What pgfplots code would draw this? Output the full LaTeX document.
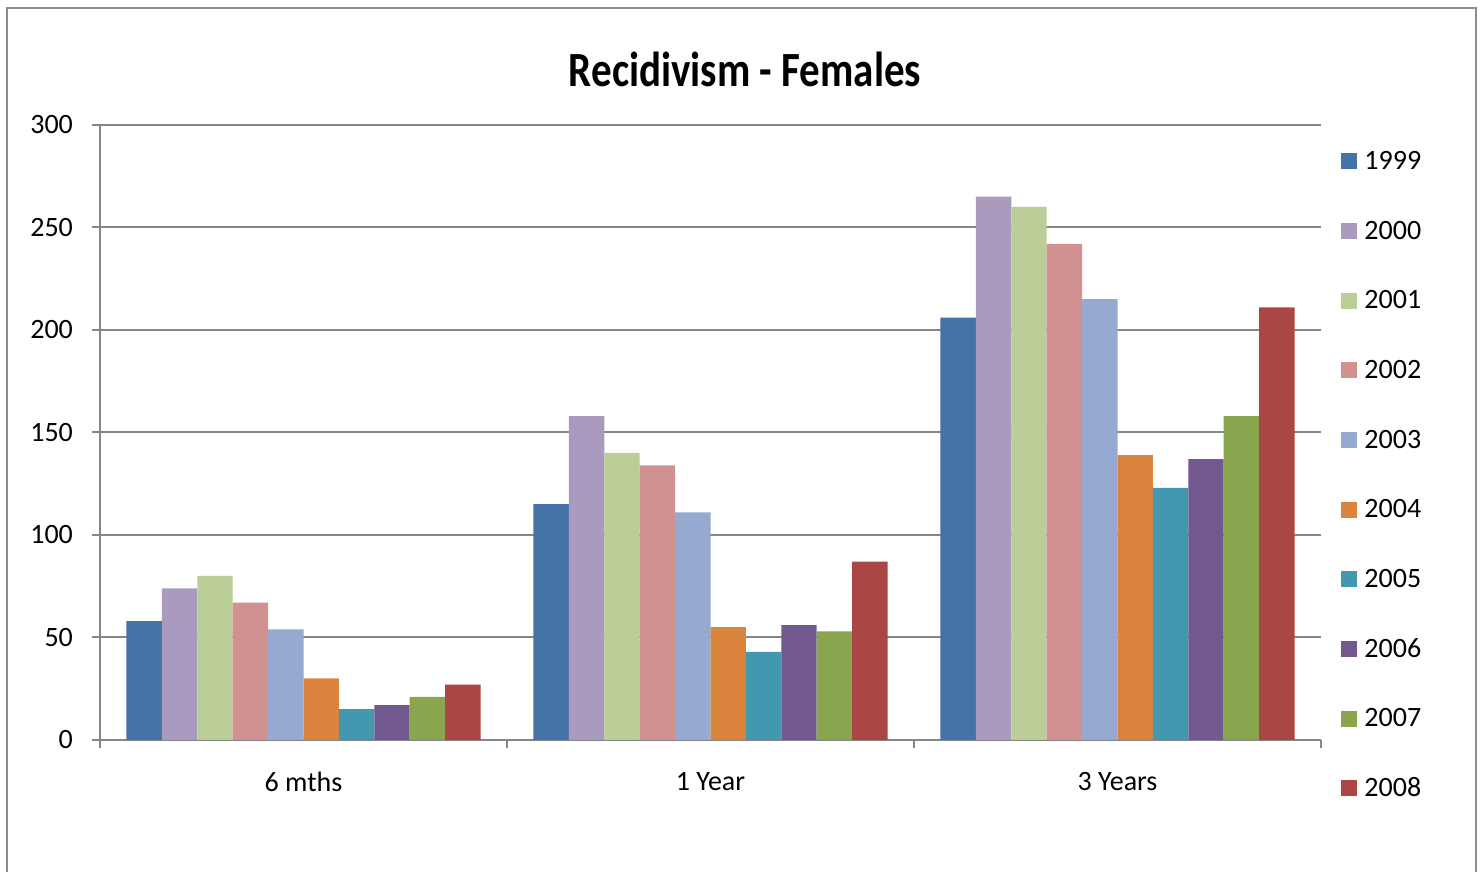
\documentclass[border=0pt]{standalone}
\usepackage{pgfplots}
\pgfplotsset{compat=1.18}
\usepackage{fontspec}
\setmainfont{Carlito}

\definecolor{gridc}{RGB}{134,134,134}
\definecolor{framec}{RGB}{140,140,140}
\definecolor{c1999}{RGB}{69,114,167}
\definecolor{c2000}{RGB}{170,155,190}
\definecolor{c2001}{RGB}{187,206,151}
\definecolor{c2002}{RGB}{210,145,145}
\definecolor{c2003}{RGB}{149,169,209}
\definecolor{c2004}{RGB}{219,132,61}
\definecolor{c2005}{RGB}{65,152,175}
\definecolor{c2006}{RGB}{113,88,143}
\definecolor{c2007}{RGB}{137,165,78}
\definecolor{c2008}{RGB}{170,70,67}

\begin{document}
\begin{tikzpicture}
% page = 1484x872 px at 0.5pt per px, axis origin at (100px,740px)
\useasboundingbox (-50pt,-66pt) rectangle (692pt,370pt);
\draw[framec, line width=1pt] (-46.5pt,-90pt) rectangle (688pt,366pt);

\begin{axis}[
    scale only axis,
    width=610.5pt, height=307.5pt,
    ybar=0pt,
    bar width=0.087,
    xmin=-0.5, xmax=2.5,
    ymin=0, ymax=300,
    ytick={0,50,...,300},
    xtick={-0.5,0.5,1.5,2.5},
    xticklabels={},
    extra x ticks={0,1,2},
    extra x tick labels={6 mths,1 Year,3 Years},
    extra x tick style={major tick length=0pt, xticklabel style={yshift=-12.5pt}},
    axis x line*=bottom,
    axis y line*=left,
    axis line style={gridc, line width=1pt, -},
    tick align=outside,
    major tick length=4pt,
    tick style={gridc, line width=1pt},
    ymajorgrids,
    major grid style={gridc, line width=1pt},
    /pgf/number format/assume math mode=true,
    ticklabel style={font=\fontsize{14}{16}\selectfont},
    yticklabel style={xshift=-6pt},
    title={\scalebox{1}[1.2]{\textbf{Recidivism - Females}}},
    title style={font=\fontsize{20.5}{24}\selectfont, at={(0.5283,1.0711)}, anchor=center},
    legend cell align=left,
    legend style={
        at={(1.0164,0.9577)}, anchor=north west,
        draw=none, fill=none, inner sep=0pt,
        font=\fontsize{14}{16}\selectfont,
        row sep=25.83pt,
        nodes={inner sep=0pt, text height=9pt, text depth=0pt},
    },
    legend image code/.code={
        \fill[#1] (0pt,-4.5pt) rectangle (8pt,3.5pt);
        \path (11.5pt,0pt);
    },
]
\addplot[fill=c1999, draw=none] coordinates {(0,58) (1,115) (2,206)};
\addplot[fill=c2000, draw=none] coordinates {(0,74) (1,158) (2,265)};
\addplot[fill=c2001, draw=none] coordinates {(0,80) (1,140) (2,260)};
\addplot[fill=c2002, draw=none] coordinates {(0,67) (1,134) (2,242)};
\addplot[fill=c2003, draw=none] coordinates {(0,54) (1,111) (2,215)};
\addplot[fill=c2004, draw=none] coordinates {(0,30) (1,55) (2,139)};
\addplot[fill=c2005, draw=none] coordinates {(0,15) (1,43) (2,123)};
\addplot[fill=c2006, draw=none] coordinates {(0,17) (1,56) (2,137)};
\addplot[fill=c2007, draw=none] coordinates {(0,21) (1,53) (2,158)};
\addplot[fill=c2008, draw=none] coordinates {(0,27) (1,87) (2,211)};
\legend{1999,2000,2001,2002,2003,2004,2005,2006,2007,2008}
\end{axis}
\end{tikzpicture}
\end{document}
